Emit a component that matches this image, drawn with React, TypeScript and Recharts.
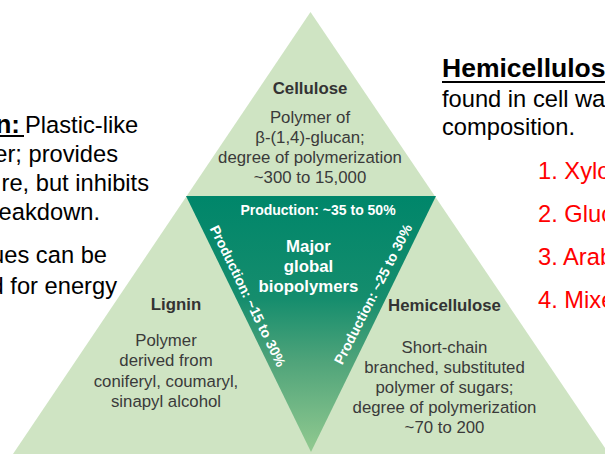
import React from 'react';
import { ComposedChart, Area, XAxis, YAxis } from 'recharts';

// vertices of the big light-green triangle (x in px across, y measured up from the bottom)
const OUTER_X = [13, 310.5, 605];
const OUTER_Y = [0, 442, 6];

// inverted inner triangle, drawn as a range area [low, high]
const INNER_X = [186, 311, 436];
const INNER_LOW = [258, 2, 258];
const INNER_HIGH = [258, 258, 258];

// text content
const CELLULOSE_LINES = ['Polymer of', 'β-(1,4)-glucan;', 'degree of polymerization', '~300 to 15,000'];
const LIGNIN_LINES = ['Polymer', 'derived from', 'coniferyl, coumaryl,', 'sinapyl alcohol'];
const HEMI_LINES = ['Short-chain', 'branched, substituted', 'polymer of sugars;', 'degree of polymerization', '~70 to 200'];
const CENTER_LINES = ['Major', 'global', 'biopolymers'];
const LEFT_NOTE_LINES = ['er; provides', 're, but inhibits', 'eakdown.'];
const LEFT_NOTE_ENDS = [118, 149, 100];
const LEFT_NOTE2_LINES = ['ues can be', 'd for energy'];
const LEFT_NOTE2_ENDS = [107, 117];
const RIGHT_NOTE_LINES = ['found in cell wa', 'composition.'];
const SUGAR_LIST = ['1. Xylo', '2. Gluc', '3. Arab', '4. Mixe'];

const outerData = OUTER_X.map((x, i) => ({ x, outer: OUTER_Y[i] }));
const innerData = INNER_X.map((x, i) => ({ x, inner: [INNER_LOW[i], INNER_HIGH[i]] }));

const FONT = "'Liberation Sans', Arial, sans-serif";
const BODY = 23.7;

export default function App() {
  return (
    <div
      style={{
        position: 'absolute',
        left: 0,
        top: 0,
        width: 605,
        height: 454,
        overflow: 'hidden',
        background: '#fff',
      }}
    >
      <ComposedChart width={605} height={454} margin={{ top: 0, right: 0, bottom: 0, left: 0 }}>
        <defs>
          <linearGradient id="innerGrad" x1="0" y1="0" x2="0" y2="1">
            <stop offset="0%" stopColor="#00866a" />
            <stop offset="40%" stopColor="#158d6d" />
            <stop offset="65%" stopColor="#50a47a" />
            <stop offset="100%" stopColor="#92ca90" />
          </linearGradient>
        </defs>
        <XAxis type="number" dataKey="x" domain={[0, 605]} hide allowDataOverflow />
        <YAxis type="number" domain={[0, 454]} hide allowDataOverflow />
        <Area
          data={outerData}
          dataKey="outer"
          type="linear"
          baseValue={0}
          fill="#cfe4c3"
          fillOpacity={1}
          stroke="none"
          dot={false}
          activeDot={false}
          isAnimationActive={false}
        />
        <Area
          data={innerData}
          dataKey="inner"
          type="linear"
          fill="url(#innerGrad)"
          fillOpacity={1}
          stroke="none"
          dot={false}
          activeDot={false}
          isAnimationActive={false}
        />
      </ComposedChart>

      <svg
        width={605}
        height={454}
        style={{ position: 'absolute', left: 0, top: 0, pointerEvents: 'none' }}
        fontFamily={FONT}
      >
        {/* left slide text (cut off at the edge) */}
        <text x={20} y={133} fontSize={26} fontWeight="bold" fill="#000" textAnchor="end">n:</text>
        <rect x={0} y={135} width={24} height={2} fill="#000" />
        <text x={25} y={133} fontSize={BODY} fill="#000">Plastic-like</text>
        {LEFT_NOTE_LINES.map((t, i) => (
          <text key={t} x={LEFT_NOTE_ENDS[i]} y={162 + i * 29} fontSize={BODY} fill="#000" textAnchor="end">
            {t}
          </text>
        ))}
        {LEFT_NOTE2_LINES.map((t, i) => (
          <text key={t} x={LEFT_NOTE2_ENDS[i]} y={263 + i * 30.5} fontSize={BODY} fill="#000" textAnchor="end">
            {t}
          </text>
        ))}

        {/* right slide text */}
        <text x={442} y={77} fontSize={26.5} fontWeight="bold" fill="#000">Hemicellulos</text>
        <rect x={442} y={81} width={170} height={2} fill="#000" />
        {RIGHT_NOTE_LINES.map((t, i) => (
          <text key={t} x={442} y={107 + i * 28} fontSize={BODY} fill="#000">{t}</text>
        ))}
        {SUGAR_LIST.map((t, i) => (
          <text key={t} x={538} y={179 + i * 43} fontSize={BODY} fill="#ff0000">{t}</text>
        ))}

        {/* Cellulose */}
        <text x={310} y={94} fontSize={16.8} fontWeight="bold" fill="#333" textAnchor="middle">Cellulose</text>
        {CELLULOSE_LINES.map((t, i) => (
          <text key={t} x={310} y={123 + i * 20} fontSize={16.8} fill="#3a3a3a" textAnchor="middle">{t}</text>
        ))}

        {/* inner triangle labels */}
        <text x={318} y={215} fontSize={14} fontWeight="bold" fill="#fff" textAnchor="middle">
          Production: ~35 to 50%
        </text>
        {CENTER_LINES.map((t, i) => (
          <text key={t} x={308.5} y={252 + i * 20} fontSize={16.8} fontWeight="bold" fill="#fff" textAnchor="middle">{t}</text>
        ))}
        <text
          x={248}
          y={296}
          fontSize={14}
          fontWeight="bold"
          fill="#fff"
          textAnchor="middle"
          dominantBaseline="central"
          transform="rotate(64 248 296)"
        >
          Production: ~15 to 30%
        </text>
        <text
          x={373}
          y={294}
          fontSize={14}
          fontWeight="bold"
          fill="#fff"
          textAnchor="middle"
          dominantBaseline="central"
          transform="rotate(-63 373 294)"
        >
          Production: ~25 to 30%
        </text>

        {/* Lignin */}
        <text x={176} y={310} fontSize={16.8} fontWeight="bold" fill="#333" textAnchor="middle">Lignin</text>
        {LIGNIN_LINES.map((t, i) => (
          <text key={t} x={166} y={346 + i * 20.3} fontSize={16.8} fill="#3a3a3a" textAnchor="middle">{t}</text>
        ))}

        {/* Hemicellulose */}
        <text x={444.5} y={311} fontSize={16.8} fontWeight="bold" fill="#333" textAnchor="middle">Hemicellulose</text>
        {HEMI_LINES.map((t, i) => (
          <text key={t} x={444.5} y={353 + i * 20} fontSize={16.8} fill="#3a3a3a" textAnchor="middle">{t}</text>
        ))}
      </svg>
    </div>
  );
}
